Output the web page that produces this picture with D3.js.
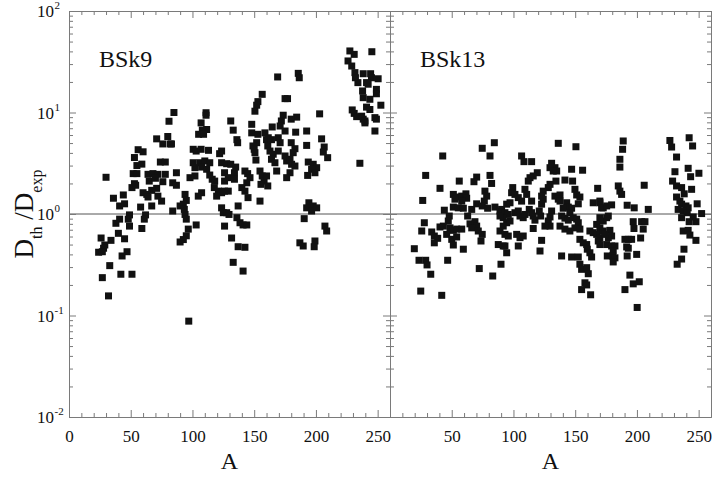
<!DOCTYPE html>
<html>
<head>
<meta charset="utf-8">
<script src="https://cdn.jsdelivr.net/npm/d3@7"></script>
<style>
body { margin: 0; background: #fff; }
svg text { font-family: "Liberation Serif", "Times New Roman", "DejaVu Serif", serif; }
</style>
</head>
<body>
<div id="chart"></div>
<script>
// D_th / D_exp against mass number A, two Skyrme forces
const bsk9 = [
  [85,10.0],[81,8.2],[71,5.5],[80,5.8],[82,4.9],[76,4.9],[83,4.9],[56,4.3],[60,4.1],[53,3.6],[74,3.25],[78,3.25],
  [55,3.0],[59,3.1],[30,2.3],[52,2.5],[55,2.5],[64,2.46],[68,2.5],[72,2.46],[78,2.46],[87,2.55],[65,2.11],[70,2.25],
  [76,2.08],[53,1.99],[51,1.82],[54,1.92],[84,2.03],[87,1.92],[71,1.79],[67,1.71],[60,1.62],[63,1.56],[64,1.47],
  [72,1.5],[75,1.34],[36,1.43],[44,1.54],[41,1.2],[45,1.26],[58,1.17],[67,1.2],[84,1.07],[90,1.2],[49,0.98],[48,0.89],
  [41,0.89],[62,0.98],[61,0.89],[38,0.81],[49,0.76],[59,0.72],[40,0.645],[26,0.58],[34,0.55],[45,0.57],[29,0.495],
  [28,0.46],[24,0.42],[27,0.425],[47,0.425],[43,0.386],[90,0.53],[33,0.31],[27,0.236],[42,0.255],[51,0.255],[32,0.156],
  [97,0.088],[133,0.334],[137,0.476],
  [156.5,15.1],[153,12.8],[152,11.8],[150.6,10.3],[111,9.95],[111,9.4],[131,8.25],[107,7.9],[133,6.7],[148,7.65],
  [111.5,6.8],[108,6.7],[105,6.1],[109,6.1],[148,6.3],[153,6.1],[136,5.4],[136.6,5.04],[152,5.04],[149,4.68],[160,5.4],
  [161,4.68],[100.6,4.34],[103,4.17],[107,4.34],[113,4.24],[123.6,4.17],[122,3.93],[150,4.34],[150.6,4.02],[151.4,3.4],
  [100.6,3.2],[106,3.2],[110,3.33],[114,3.2],[123.6,3.2],[127.7,3.13],[131,3.09],[135,2.9],[142.5,2.65],[144.7,2.5],
  [102,2.86],[107.4,2.9],[111.5,2.76],[154.7,2.65],[156.5,2.37],[158,2.11],[155.5,1.96],[98,2.28],[102,2.37],[114,2.42],
  [116,2.2],[118,2.11],[126,2.55],[129,2.28],[126,2.11],[134,2.55],[134,2.2],[146.6,2.28],[144,2.03],[140,1.82],
  [142.5,1.68],[117.7,1.82],[121,1.68],[123.6,1.62],[126,1.68],[129,1.68],[119.6,1.5],[104.7,1.5],[107.4,1.62],[94,1.56],
  [95,1.36],[92.6,1.25],[93.4,1.11],[145,1.45],[154.7,1.34],[137,1.2],[123.6,1.15],[125,1.03],[127.7,1.03],[129.6,0.99],
  [94,0.99],[95,0.89],[136,0.92],[138.5,0.82],[141,0.78],[144,0.78],[126,0.76],[103,0.78],[96.6,0.71],[95,0.61],
  [92.6,0.56],[131.7,0.58],[142.5,0.47],[141,0.274],
  [227.5,40.4],[231,37.4],[226,32.2],[229,28.7],[231.6,24.7],[232,22],[234,19.7],[185.7,24.3],[186.5,22],[169,22.4],
  [175,13.7],[177,13.7],[203,9.7],[229.4,10.6],[231,9.8],[233,9.1],[173.5,9.4],[172,8.25],[171,7.36],[184.4,9.0],
  [180,8.6],[164.6,7.2],[175,6.57],[183.6,6.4],[192.5,6.57],[158.7,6.3],[161.4,5.64],[164,5.4],[169.5,5.64],[171,5.04],
  [180,5.04],[183,4.4],[181.6,4.02],[192.5,4.74],[204.6,5.5],[206.7,4.57],[206,4.08],[209.5,3.59],[162.8,4.17],
  [165.4,3.88],[169.5,4.17],[164,3.46],[166.8,3.2],[168.2,2.65],[175,3.73],[176.3,3.33],[179,3.46],[180.3,3.09],
  [183,2.97],[193.8,3.25],[197.8,3.09],[200.6,2.86],[196.5,2.76],[193.3,2.4],[199.2,2.55],[179,2.55],[176.3,2.28],
  [160,2.37],[161,1.89],[194.3,1.29],[197.8,1.2],[192.5,1.15],[196.5,1.07],[200.6,1.15],[190.5,0.9],[207.3,0.76],
  [208.7,0.68],[187,0.52],[189.7,0.484],[199.2,0.542],[198.6,0.476],[235.6,3.16],
  [245.3,39.7],[238.3,24.1],[244.3,24.1],[245,22],[250.4,21.5],[241,19.7],[242.3,19],[249,16.9],[249,15.3],[237.8,16.3],
  [238.3,14],[243.7,13.5],[252.6,11.8],[237,9.2],[238.3,8.6],[239.7,8.25],[241,11.3],[243.7,10.7],[247.8,8.9],[249,8.6],
  [239.7,7.9],[247.8,6.57]
]

const bsk13 = [
  [84.5,5.04],[74.7,4.44],[81,3.73],[42.7,3.73],[28.9,2.4],[70.2,2.31],[68,2.08],[81,2.4],[82.3,2.0],[56.1,2.11],
  [40.5,1.79],[76.9,1.68],[78.3,1.5],[76.4,1.34],[51.3,1.56],[54,1.47],[58.1,1.5],[61.5,1.58],[62.1,1.43],[58.1,1.34],
  [52.6,1.4],[26.5,1.36],[70.2,1.26],[74.7,1.2],[79.1,1.14],[51.3,1.17],[55.3,1.15],[59.4,1.14],[66.2,1.11],[44,1.09],
  [85,1.17],[89.1,1.07],[48,0.955],[47.2,0.853],[62.9,0.955],[27.8,0.82],[25.7,0.68],[64.8,0.8],[68.8,0.84],[70.2,0.76],
  [66.2,0.73],[40.5,0.745],[43.2,0.76],[48.6,0.73],[51.3,0.69],[54,0.71],[58.1,0.71],[33.8,0.665],[35.9,0.607],
  [38.6,0.576],[35.9,0.52],[45.9,0.63],[50,0.563],[54,0.594],[71.5,0.68],[74.7,0.63],[73.7,0.542],[89.1,0.68],
  [87.7,0.5],[91.7,0.484],[51.3,0.495],[59.4,0.45],[19.7,0.455],[23.5,0.35],[28.9,0.35],[30,0.315],[33,0.255],
  [46.7,0.35],[72.3,0.29],[83.2,0.245],[89.9,0.32],[24.9,0.174],[41.9,0.158],
  [136.3,4.97],[150.6,4.6],[106.6,3.73],[108.5,3.28],[114.7,3.28],[130.9,3.16],[133.6,2.86],[129.6,2.86],[135,2.65],
  [132.2,2.65],[147.1,2.76],[156,2.7],[119.3,2.55],[116,2.37],[113.4,2.28],[112,2.11],[134.4,2.11],[129.6,1.96],
  [128.2,1.82],[141.7,2.16],[147.9,2.11],[99.4,1.82],[98.5,1.62],[101.2,1.56],[103.9,1.45],[106.6,1.34],[109.3,1.75],
  [110.7,1.56],[124.1,1.68],[122.8,1.5],[124.1,1.4],[122.8,1.25],[133.6,1.5],[137.7,1.54],[136.3,1.4],[137.7,1.34],
  [149.8,1.75],[151.2,1.54],[153.8,1.47],[152.5,1.26],[168.2,1.79],[114.7,1.34],[94.5,1.25],[97.2,1.29],[143.1,1.29],
  [144.4,1.17],[147.1,1.14],[140.3,1.14],[145.7,1.03],[164.6,1.29],[170,1.29],[171.4,1.15],[90.4,1.11],[93.1,1.03],
  [95.8,0.99],[91.7,0.92],[89.1,0.955],[101.2,1.03],[103.9,1.07],[105.3,0.955],[107.9,0.92],[109.3,0.99],[112.8,1.11],
  [114.7,1.03],[116,0.955],[117.4,0.87],[122,0.955],[120.9,1.07],[130.9,1.07],[129.6,0.935],[139,0.955],[141.7,0.91],
  [144.4,0.87],[148.4,0.92],[151.2,0.89],[152.5,0.82],[128.2,0.853],[129.6,0.76],[125.5,0.76],[137.7,0.76],[141.7,0.71],
  [145.7,0.68],[149.8,0.73],[153.8,0.71],[161.9,0.68],[167.4,0.79],[170,0.73],[172.7,0.853],[94.5,0.82],[97.2,0.853],
  [91.7,0.76],[116,0.72],[93.1,0.63],[95.8,0.607],[164.6,0.655],[167.4,0.63],[170,0.585],[168.7,0.542],[102.6,0.63],
  [105.3,0.585],[107.9,0.607],[153.8,0.563],[156.5,0.52],[159.3,0.5],[122.8,0.55],[103.9,0.484],[93.1,0.484],
  [94.5,0.415],[159.8,0.45],[161.9,0.415],[121.5,0.432],[139,0.386],[147.1,0.377],[152.5,0.377],[163.3,0.377],
  [153.8,0.32],[155.2,0.285],[159.3,0.296],[160.6,0.258],[157.9,0.21],[159.3,0.2],[155.2,0.18],[162.5,0.16],
  [188.9,5.24],[188.4,4.34],[186.2,3.46],[186.2,2.9],[184.9,1.89],[186.2,1.68],[187.6,1.56],[205.9,1.92],[226.7,5.3],
  [228.1,4.57],[232.1,3.64],[242.3,5.64],[245.1,4.68],[230.8,2.61],[241.5,2.82],[243.5,2.33],[250.2,2.52],[228.9,2.11],
  [232.1,1.89],[236.2,1.82],[244.3,1.75],[238.3,1.58],[232.1,1.47],[234.8,1.34],[236.2,1.25],[239.7,1.2],[241.5,1.15],
  [248.8,1.26],[233.4,1.11],[237.5,1.07],[240.7,1.03],[252.4,1.01],[170,1.34],[172.7,1.15],[175.5,1.2],[179.5,1.23],
  [192.1,1.22],[197.8,1.15],[209.2,1.11],[175.5,0.92],[176.8,0.955],[170,0.92],[197,0.84],[197.6,0.72],[203.8,0.84],
  [206.5,0.84],[205.1,0.71],[203,0.58],[172.7,0.68],[178.1,0.69],[179.5,0.607],[176.8,0.585],[174.1,0.63],[170,0.5],
  [175.5,0.5],[179.5,0.484],[182.2,0.484],[180.8,0.432],[180.3,0.386],[182.2,0.37],[176,0.386],[180.8,0.337],
  [190.3,0.563],[193,0.563],[195.7,0.563],[191.7,0.474],[193,0.46],[192.1,0.386],[199.8,0.4],[194.3,0.25],[197,0.205],
  [201.9,0.215],[190.3,0.18],[200.2,0.12],[236.2,0.92],[242.3,0.84],[247.8,0.84],[237.5,0.68],[241.5,0.69],[242.9,0.62],
  [247.8,0.55],[245.6,0.935],[238.1,0.45],[236.2,0.36],[232.6,0.32]
]

const panelNames = ["BSk9", "BSk13"]
const xMajor = [0, 50, 100, 150, 200, 250]
const yMajor = [0.01, 0.1, 1, 10, 100]
const yExp = ["-2", "-1", "0", "1", "2"]

const width = 717
const height = 478
const axisColor = "#7a7a7a"

const svg = d3.select("#chart").append("svg").attr("width", width).attr("height", height)

const y = d3.scaleLog().domain([0.01, 100]).range([417, 11])
const xs = [
  d3.scaleLinear().domain([0, 260]).range([69, 390]),
  d3.scaleLinear().domain([0, 260]).range([390, 711])
]

const xMinor = d3.range(0, 261, 10).filter(v => v % 50 !== 0)
const yMinor = []
yMajor.slice(0, -1).forEach(p => { for (let m = 2; m < 10; m++) yMinor.push(p * m) })

function drawAxis(axis, tx, ty) {
  const g = svg.append("g").attr("transform", `translate(${tx},${ty})`).call(axis)
  g.attr("font-size", 17)
  g.select(".domain").attr("stroke", axisColor)
  g.selectAll(".tick line").attr("stroke", axisColor)
  g.selectAll(".tick text").attr("fill", "#111")
  return g
}

// reference line at ratio = 1
svg.append("line")
  .attr("x1", 69).attr("x2", 711)
  .attr("y1", y(1)).attr("y2", y(1))
  .attr("stroke", "#555").attr("stroke-width", 1)

const datasets = [bsk9, bsk13]

datasets.forEach((data, i) => {
  const x = xs[i]
  const [x0, x1] = x.range()

  // bottom
  drawAxis(d3.axisBottom(x).tickValues(i === 0 ? xMajor : xMajor.slice(1))
    .tickSize(-7).tickSizeOuter(0).tickPadding(13), 0, 417)
  drawAxis(d3.axisBottom(x).tickValues(xMinor).tickSize(-4).tickSizeOuter(0).tickFormat(""), 0, 417)
  // top
  drawAxis(d3.axisTop(x).tickValues(xMajor).tickSize(-7).tickSizeOuter(0).tickFormat(""), 0, 11)
  drawAxis(d3.axisTop(x).tickValues(xMinor).tickSize(-4).tickSizeOuter(0).tickFormat(""), 0, 11)
  // left and right sides, ticks inward
  drawAxis(d3.axisLeft(y).tickValues(yMajor).tickSize(-7).tickSizeOuter(0).tickFormat(""), x0, 0)
  drawAxis(d3.axisLeft(y).tickValues(yMinor).tickSize(-4).tickSizeOuter(0).tickFormat(""), x0, 0)
  drawAxis(d3.axisRight(y).tickValues(yMajor).tickSize(-7).tickSizeOuter(0).tickFormat(""), x1, 0)
  drawAxis(d3.axisRight(y).tickValues(yMinor).tickSize(-4).tickSizeOuter(0).tickFormat(""), x1, 0)

  svg.append("g").selectAll("rect").data(data).join("rect")
    .attr("x", d => x(d[0]) - 3.5)
    .attr("y", d => y(d[1]) - 3.5)
    .attr("width", 7).attr("height", 7)
    .attr("fill", "#111")

  svg.append("text")
    .attr("x", i === 0 ? 99 : 420).attr("y", 67)
    .attr("font-size", 24).attr("fill", "#111")
    .text(panelNames[i])

  svg.append("text")
    .attr("x", (x0 + x1) / 2).attr("y", 469)
    .attr("text-anchor", "middle")
    .attr("font-size", 24).attr("fill", "#111")
    .text("A")
})

// y tick labels as powers of ten
const yLabels = svg.append("g").attr("fill", "#111")
yMajor.forEach((v, k) => {
  yLabels.append("text").attr("x", 54).attr("y", y(v) + 6).attr("text-anchor", "end").attr("font-size", 17).text("10")
  yLabels.append("text").attr("x", 54.5).attr("y", y(v) - 2).attr("font-size", 11).text(yExp[k])
})

// y axis title
const yTitle = svg.append("text")
  .attr("transform", "translate(33,214) rotate(-90)")
  .attr("text-anchor", "middle")
  .attr("font-size", 27).attr("fill", "#111")
yTitle.append("tspan").text("D")
yTitle.append("tspan").attr("font-size", 16).attr("dy", 9).text("th")
yTitle.append("tspan").attr("dy", -9).text(" /D")
yTitle.append("tspan").attr("font-size", 16).attr("dy", 9).text("exp")
</script>
</body>
</html>
